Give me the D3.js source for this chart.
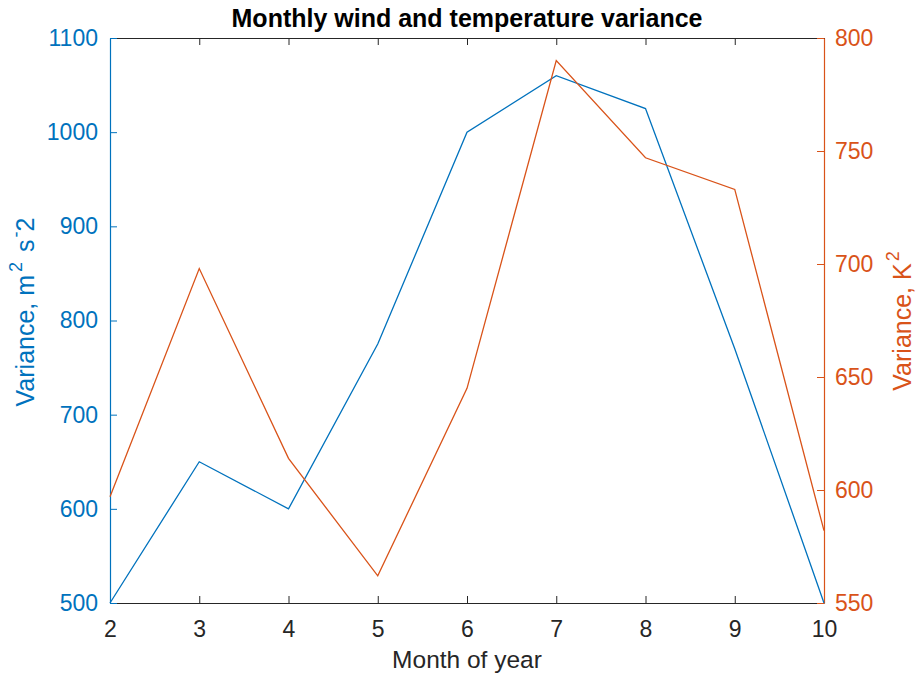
<!DOCTYPE html>
<html>
<head>
<meta charset="utf-8">
<script src="https://cdn.jsdelivr.net/npm/d3@7"></script>
<style>
  html, body { margin: 0; padding: 0; background: #fff; }
  svg { display: block; font-family: "Liberation Sans", Arial, Helvetica, sans-serif; }
</style>
</head>
<body>
<svg id="chart" width="917" height="676"></svg>
<script>
// Months on the x axis
const months = [2, 3, 4, 5, 6, 7, 8, 9, 10];
// Wind variance (m^2 s^-2), left axis
const windVariance = [500, 650, 600, 775, 1000, 1060, 1025, 770, 500];
// Temperature variance (K^2), right axis
const tempVariance = [597, 698, 614, 562, 645, 790, 747, 733, 582];
// Tick values
const xTicks = [2, 3, 4, 5, 6, 7, 8, 9, 10];
const leftTicks = [500, 600, 700, 800, 900, 1000, 1100];
const rightTicks = [550, 600, 650, 700, 750, 800];

const blue = "#0072BD";
const orange = "#D95319";
const dark = "#262626";

const svg = d3.select("#chart");
const m = { left: 110, right: 824, top: 38, bottom: 603 };

const x = d3.scaleLinear().domain([2, 10]).range([m.left, m.right]);
const yL = d3.scaleLinear().domain([500, 1100]).range([m.bottom, m.top]);
const yR = d3.scaleLinear().domain([550, 800]).range([m.bottom, m.top]);

const tickLen = 7;
const tickFont = 23;

// Bottom axis (ticks point inward)
const axBottom = svg.append("g").attr("transform", `translate(0,${m.bottom})`)
  .call(d3.axisBottom(x).tickValues(xTicks).tickSize(-tickLen).tickSizeOuter(0).tickPadding(18).tickFormat(d3.format("d")));
// Top axis, ticks only
const axTop = svg.append("g").attr("transform", `translate(0,${m.top})`)
  .call(d3.axisTop(x).tickValues(xTicks).tickSize(-tickLen).tickSizeOuter(0).tickFormat(""));
[axBottom, axTop].forEach(g => {
  g.select(".domain").attr("stroke", dark).attr("stroke-width", 1.2);
  g.selectAll(".tick line").attr("stroke", dark);
  g.selectAll(".tick text").attr("fill", dark).attr("font-size", tickFont).attr("font-family", null);
});

// Left axis (wind)
const axLeft = svg.append("g").attr("transform", `translate(${m.left},0)`)
  .call(d3.axisLeft(yL).tickValues(leftTicks).tickSize(-tickLen).tickSizeOuter(0).tickPadding(12).tickFormat(d3.format("d")));
axLeft.select(".domain").attr("stroke", blue).attr("stroke-width", 1.2);
axLeft.selectAll(".tick line").attr("stroke", blue);
axLeft.selectAll(".tick text").attr("fill", blue).attr("font-size", tickFont).attr("font-family", null);

// Right axis (temperature)
const axRight = svg.append("g").attr("transform", `translate(${m.right},0)`)
  .call(d3.axisRight(yR).tickValues(rightTicks).tickSize(-tickLen).tickSizeOuter(0).tickPadding(11).tickFormat(d3.format("d")));
axRight.select(".domain").attr("stroke", orange).attr("stroke-width", 1.2);
axRight.selectAll(".tick line").attr("stroke", orange);
axRight.selectAll(".tick text").attr("fill", orange).attr("font-size", tickFont).attr("font-family", null);

// Data lines
const windLine = d3.line().x((d, i) => x(months[i])).y(d => yL(d));
const tempLine = d3.line().x((d, i) => x(months[i])).y(d => yR(d));

svg.append("path").datum(windVariance)
  .attr("d", windLine).attr("fill", "none").attr("stroke", blue).attr("stroke-width", 1.3);
svg.append("path").datum(tempVariance)
  .attr("d", tempLine).attr("fill", "none").attr("stroke", orange).attr("stroke-width", 1.3);

// Title
svg.append("text")
  .attr("x", (m.left + m.right) / 2).attr("y", 27)
  .attr("text-anchor", "middle").attr("font-weight", "bold").attr("font-size", 25)
  .attr("fill", "#000").text("Monthly wind and temperature variance");

// X label
svg.append("text")
  .attr("x", (m.left + m.right) / 2).attr("y", 668)
  .attr("text-anchor", "middle").attr("font-size", 24.5)
  .attr("fill", dark).text("Month of year");

// Left y label: Variance, m^2 s^-2
const yl = svg.append("text")
  .attr("transform", `translate(34,312) rotate(-90)`)
  .attr("text-anchor", "middle").attr("font-size", 25).attr("fill", blue);
yl.append("tspan").text("Variance, m");
yl.append("tspan").attr("font-size", 18).attr("dx", 3).attr("dy", -12).text("2");
yl.append("tspan").attr("dx", 3).attr("dy", 12).text(" s");
yl.append("tspan").attr("font-size", 18).attr("dx", 2).attr("dy", -12).text("-");
yl.append("tspan").attr("dy", 12).text("2");

// Right y label: Variance, K^2
const yr = svg.append("text")
  .attr("transform", `translate(911,321) rotate(-90)`)
  .attr("text-anchor", "middle").attr("font-size", 25).attr("fill", orange);
yr.append("tspan").text("Variance, K");
yr.append("tspan").attr("font-size", 18).attr("dx", 2).attr("dy", -12).text("2");
</script>
</body>
</html>
